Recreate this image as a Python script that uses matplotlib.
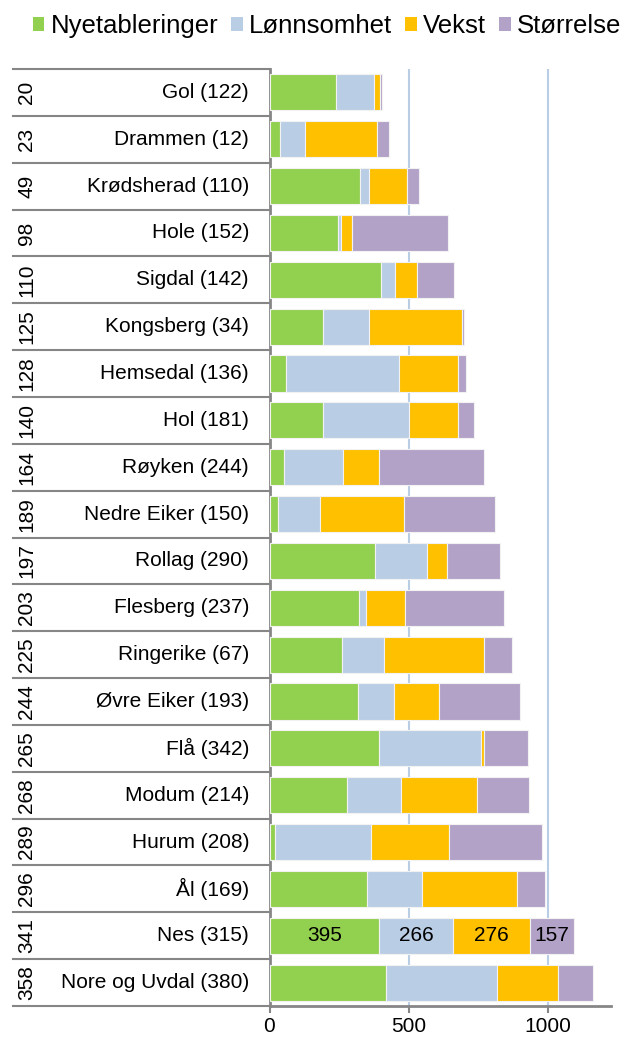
import matplotlib
matplotlib.use("Agg")
import matplotlib.pyplot as plt
from matplotlib.patches import Patch

plt.rcParams['font.family'] = ['Liberation Sans', 'DejaVu Sans']

ranks = [20, 23, 49, 98, 110, 125, 128, 140, 164, 189, 197, 203, 225, 244, 265, 268, 289, 296, 341, 358]
categories = ["Gol (122)", "Drammen (12)", "Krødsherad (110)", "Hole (152)", "Sigdal (142)",
              "Kongsberg (34)", "Hemsedal (136)", "Hol (181)", "Røyken (244)", "Nedre Eiker (150)",
              "Rollag (290)", "Flesberg (237)", "Ringerike (67)", "Øvre Eiker (193)", "Flå (342)",
              "Modum (214)", "Hurum (208)", "Ål (169)", "Nes (315)", "Nore og Uvdal (380)"]
nyetableringer = [239, 38, 326, 247, 401, 194, 59, 194, 52, 31, 380, 322, 261, 317, 394, 279, 20, 351, 395, 419]
lonnsomhet     = [137, 91, 33, 10, 52, 163, 408, 308, 213, 151, 185, 25, 152, 129, 367, 193, 344, 196, 266, 400]
vekst          = [21, 256, 136, 39, 78, 337, 210, 177, 127, 301, 75, 140, 357, 165, 11, 273, 283, 343, 276, 220]
storrelse      = [8, 46, 43, 345, 133, 5, 30, 55, 380, 328, 189, 355, 101, 288, 156, 188, 334, 99, 157, 123]
series_names = ["Nyetableringer", "Lønnsomhet", "Vekst", "Størrelse"]
colors = ["#92D050", "#B9CDE5", "#FFC000", "#B3A2C7"]
labeled_row = "Nes (315)"
xticks = [0, 500, 1000]

W, H = 629, 1038
fig = plt.figure(figsize=(W / 100, H / 100), dpi=100)
ax_l, ax_r, ax_t, ax_b = 269.5, 611, 69, 1006
ax = fig.add_axes([ax_l / W, 1 - ax_b / H, (ax_r - ax_l) / W, (ax_b - ax_t) / H])

n = len(categories)
ypos = [i + 0.5 for i in range(n)]
left = [0] * n
all_series = [nyetableringer, lonnsomhet, vekst, storrelse]
for vals, col, name in zip(all_series, colors, series_names):
    ax.barh(ypos, vals, left=left, height=0.77, color=col, edgecolor="#F2F2F2",
            linewidth=0.8, label=name, zorder=3)
    idx = categories.index(labeled_row)
    ax.text(left[idx] + vals[idx] / 2, ypos[idx], str(vals[idx]), ha="center", va="center",
            fontsize=15, color="black", zorder=4)
    left = [l + v for l, v in zip(left, vals)]

ax.set_ylim(n, 0)
ax.set_xlim(0, 1228)
ax.set_xticks(xticks)
ax.set_xticklabels([str(t) for t in xticks], fontsize=15)
ax.tick_params(axis="x", direction="out", length=5, width=1.5, color="#868686", pad=3)
ax.set_yticks([])
for t in xticks[1:]:
    ax.axvline(t, color="#B9CDE5", linewidth=1.5, zorder=1)
for s in ["top", "right"]:
    ax.spines[s].set_visible(False)
for s in ["left", "bottom"]:
    ax.spines[s].set_color("#868686")
    ax.spines[s].set_linewidth(2)

# category table on the left
xl = (13 - ax_l) / (ax_r - ax_l)
for i in range(n + 1):
    ax.plot([xl, 0], [i, i], transform=ax.get_yaxis_transform(), color="#868686",
            linewidth=1.5, clip_on=False)
rank_x = (27 - ax_l) / (ax_r - ax_l)
cat_x = (249 - ax_l) / (ax_r - ax_l)
for i in range(n):
    ax.text(rank_x, ypos[i], str(ranks[i]), transform=ax.get_yaxis_transform(), rotation=90,
            ha="center", va="center", fontsize=15)
    ax.text(cat_x, ypos[i], categories[i], transform=ax.get_yaxis_transform(),
            ha="right", va="center", fontsize=15)

handles = [Patch(facecolor=c, edgecolor="none", label=nm) for c, nm in zip(colors, series_names)]
fig.legend(handles=handles, loc="center", bbox_to_anchor=(0.52, 1 - 26 / H), ncol=4,
           frameon=False, fontsize=18.5, handlelength=0.45, handleheight=0.45,
           handletextpad=0.25, columnspacing=0.5, borderaxespad=0)

fig.savefig("out.png", dpi=100)
